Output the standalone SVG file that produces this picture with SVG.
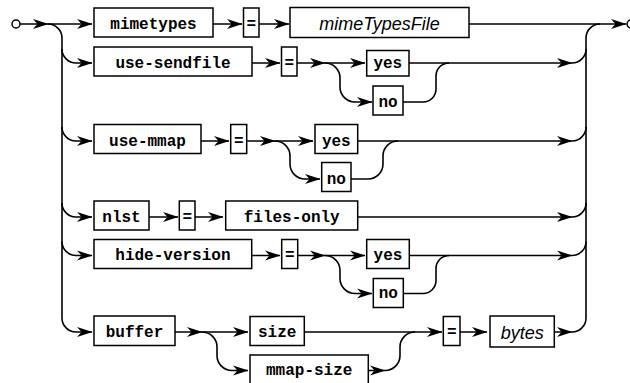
<svg xmlns="http://www.w3.org/2000/svg" xmlns:xlink="http://www.w3.org/1999/xlink" width="630" height="383" viewBox="0 0 630 383">
<style>
  rect{fill:#fff;stroke:#000;stroke-width:1.5}
  .c path{fill:none;stroke:#000;stroke-width:1.6}
  .t{font-family:"Liberation Mono","Courier New",monospace;font-weight:bold;font-size:16px;text-anchor:middle}
  .n{font-family:"Liberation Sans",Arial,sans-serif;font-style:italic;font-size:18px;text-anchor:middle}
  .ah{fill:#000;stroke:none}
  .end{fill:#fff;stroke:#000;stroke-width:1.5}
</style>
<defs>
  <path id="ah" class="ah" d="M0.5,0 L-15,-5 L-10.5,0 L-15,5 Z"/>
</defs>
<g id="connectors" class="c">
  <circle class="end" cx="16" cy="24" r="4"/>
  <circle class="end" cx="631" cy="24" r="4"/>
  <path d="M20,24 H48 M48,24 H92 M213,24 H242 M259,24 H289 M469,24 H626"/>
  <path d="M48,24 A14,14 0 0 1 62,38 V318 A14,14 0 0 0 76,332 H92"/>
  <path d="M586,318 V38 A14,14 0 0 1 600,24"/>
  <!-- row 2 -->
  <path d="M62,49 A14,14 0 0 0 76,63 H92 M252,63 H280 M297,63 H325 M325,63 H365"/>
  <path d="M325,63 A15,15 0 0 1 340,78 V87 A15,15 0 0 0 355,102 H372"/>
  <path d="M403,102 H423 A13,13 0 0 0 436,89 V76 A13,13 0 0 1 449,63"/>
  <path d="M409,63 H572 A14,14 0 0 0 586,49"/>
  <!-- row 3 -->
  <path d="M62,127 A14,14 0 0 0 76,141 H92 M201,141 H229 M246.7,141 H275 M275,141 H313"/>
  <path d="M275,141 A15,15 0 0 1 290,156 V164 A15,15 0 0 0 305,179 H320"/>
  <path d="M351,179 H368 A15,15 0 0 0 383,164 V156 A15,15 0 0 1 398,141"/>
  <path d="M357.7,141 H572 A14,14 0 0 0 586,127"/>
  <!-- row 4 -->
  <path d="M62,203 A14,14 0 0 0 76,217 H92 M149,217 H178 M195,217 H223"/>
  <path d="M357.7,217 H572 A14,14 0 0 0 586,203"/>
  <!-- row 5 -->
  <path d="M62,241.5 A14,14 0 0 0 76,255.5 H92 M251.7,255.5 H280 M297.7,255.5 H325 M325,255.5 H365"/>
  <path d="M325,255.5 A15,15 0 0 1 340,270.5 V278.5 A15,15 0 0 0 355,293.5 H372"/>
  <path d="M403.3,293.5 H423 A13,13 0 0 0 436,280.5 V268.5 A13,13 0 0 1 449,255.5"/>
  <path d="M409.3,255.5 H572 A14,14 0 0 0 586,241.5"/>
  <!-- row 6 -->
  <path d="M175,332 H202 M202,332 H248"/>
  <path d="M202,332 A15,15 0 0 1 217,347 V355.5 A15,15 0 0 0 232,370.5 H248"/>
  <path d="M368.3,370.5 H385 A15,15 0 0 0 400,355.5 V347 A15,15 0 0 1 415,332"/>
  <path d="M304.3,332 H442 M460,332 H487 M554.3,332 H572 A14,14 0 0 0 586,318"/>
  <g>
    <use xlink:href="#ah" x="48" y="24"/><use xlink:href="#ah" x="92" y="24"/><use xlink:href="#ah" x="242" y="24"/><use xlink:href="#ah" x="289" y="24"/><use xlink:href="#ah" x="626" y="24"/>
    <use xlink:href="#ah" x="92" y="63"/><use xlink:href="#ah" x="280" y="63"/><use xlink:href="#ah" x="325" y="63"/><use xlink:href="#ah" x="365" y="63"/><use xlink:href="#ah" x="372" y="102"/><use xlink:href="#ah" x="572" y="63"/>
    <use xlink:href="#ah" x="92" y="141"/><use xlink:href="#ah" x="229" y="141"/><use xlink:href="#ah" x="275" y="141"/><use xlink:href="#ah" x="313" y="141"/><use xlink:href="#ah" x="320" y="179"/><use xlink:href="#ah" x="572" y="141"/>
    <use xlink:href="#ah" x="92" y="217"/><use xlink:href="#ah" x="178" y="217"/><use xlink:href="#ah" x="223" y="217"/><use xlink:href="#ah" x="572" y="217"/>
    <use xlink:href="#ah" x="92" y="255.5"/><use xlink:href="#ah" x="280" y="255.5"/><use xlink:href="#ah" x="325" y="255.5"/><use xlink:href="#ah" x="365" y="255.5"/><use xlink:href="#ah" x="372" y="293.5"/><use xlink:href="#ah" x="572" y="255.5"/>
    <use xlink:href="#ah" x="92" y="332"/><use xlink:href="#ah" x="202" y="332"/><use xlink:href="#ah" x="248" y="332"/><use xlink:href="#ah" x="248" y="370.5"/><use xlink:href="#ah" x="385" y="370.5"/><use xlink:href="#ah" x="442" y="332"/><use xlink:href="#ah" x="487" y="332"/><use xlink:href="#ah" x="572" y="332"/>
  </g>
</g>
<!-- row 1 -->
<g id="mimetypes"><rect x="94" y="8" width="119" height="29"/><text class="t" x="153.5" y="28.5">mimetypes</text></g>
<g id="eq1"><rect x="243.5" y="8" width="15.5" height="29"/><text class="t" x="251.2" y="28.5">=</text></g>
<g id="mimeTypesFile"><rect x="290" y="7.5" width="179" height="30"/><text class="n" x="379.5" y="30">mimeTypesFile</text></g>
<!-- row 2 -->
<g id="use-sendfile"><rect x="94" y="47" width="158" height="29"/><text class="t" x="173" y="67.5">use-sendfile</text></g>
<g id="eq2"><rect x="281.5" y="47" width="15.5" height="29"/><text class="t" x="289.2" y="67.5">=</text></g>
<g id="yes1"><rect x="366.7" y="50.5" width="42.3" height="25.5"/><text class="t" x="387.8" y="67.5">yes</text></g>
<g id="no1"><rect x="373" y="86" width="30" height="29"/><text class="t" x="388" y="106.5">no</text></g>
<!-- row 3 -->
<g id="use-mmap"><rect x="94" y="124.5" width="107" height="29"/><text class="t" x="147.5" y="145.5">use-mmap</text></g>
<g id="eq3"><rect x="230.7" y="124.5" width="16" height="29"/><text class="t" x="238.7" y="145.5">=</text></g>
<g id="yes2"><rect x="315" y="124.5" width="42.7" height="29"/><text class="t" x="336.3" y="145.5">yes</text></g>
<g id="no2"><rect x="321.7" y="162.5" width="29.3" height="29"/><text class="t" x="336.3" y="183.5">no</text></g>
<!-- row 4 -->
<g id="nlst"><rect x="94" y="201" width="55" height="29"/><text class="t" x="121.5" y="221.5">nlst</text></g>
<g id="eq4"><rect x="179.3" y="201" width="15.7" height="29"/><text class="t" x="187.2" y="221.5">=</text></g>
<g id="files-only"><rect x="225.7" y="201" width="132" height="29"/><text class="t" x="291.7" y="221.5">files-only</text></g>
<!-- row 5 -->
<g id="hide-version"><rect x="94" y="239.5" width="157.7" height="29"/><text class="t" x="172.9" y="260">hide-version</text></g>
<g id="eq5"><rect x="281.7" y="239.5" width="16" height="29"/><text class="t" x="289.7" y="260">=</text></g>
<g id="yes3"><rect x="366.7" y="239.5" width="42.6" height="29"/><text class="t" x="388" y="260">yes</text></g>
<g id="no3"><rect x="373.3" y="278.5" width="30" height="29"/><text class="t" x="388.3" y="298">no</text></g>
<!-- row 6 -->
<g id="buffer"><rect x="94" y="316" width="81" height="29.5"/><text class="t" x="134.5" y="336.5">buffer</text></g>
<g id="size"><rect x="250" y="316.5" width="54.3" height="29"/><text class="t" x="277.2" y="336.5">size</text></g>
<g id="mmap-size"><rect x="250" y="355" width="118.3" height="29"/><text class="t" x="309.2" y="375">mmap-size</text></g>
<g id="eq6"><rect x="443.3" y="316.5" width="16.7" height="29"/><text class="t" x="451.7" y="336.5">=</text></g>
<g id="bytes"><rect x="490" y="316" width="64.3" height="31"/><text class="n" x="522.2" y="338.5">bytes</text></g>
</svg>
